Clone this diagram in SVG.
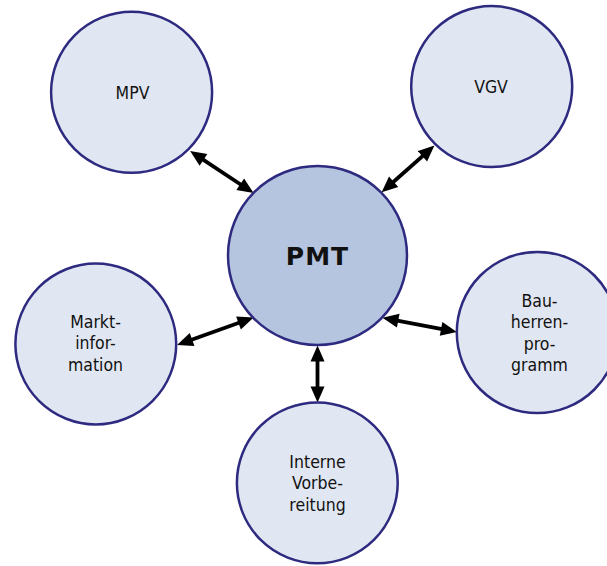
<svg xmlns="http://www.w3.org/2000/svg" width="607" height="566" viewBox="0 0 607 566">
<style>
.node{fill:#e1e7f2;stroke:#2d2a80;stroke-width:2.5}
.hub{fill:#b5c5df;stroke:#2d2a80;stroke-width:2.5}
.lbl{font-family:"DejaVu Sans Condensed","DejaVu Sans",sans-serif;font-stretch:condensed;font-size:17.5px;fill:#111;text-anchor:middle}
.hubl{font-family:"DejaVu Sans","Liberation Sans",sans-serif;font-weight:bold;font-size:25px;letter-spacing:1px;fill:#111;text-anchor:middle}
.conn{stroke:#000;stroke-width:3.8;fill:none;marker-start:url(#ah);marker-end:url(#ah)}
</style>
<defs>
<marker id="ah" markerUnits="userSpaceOnUse" markerWidth="17" markerHeight="15" viewBox="0 0 16 15" refX="5" refY="7.5" orient="auto-start-reverse">
<path d="M0,0.5 L16,7.5 L0,14.5 z" fill="#000"/>
</marker>
</defs>
<g id="connectors">
<line class="conn" x1="199.3" y1="157.1" x2="244.4" y2="187.0"/>
<line class="conn" x1="426.2" y1="152.9" x2="389.9" y2="185.0"/>
<line class="conn" x1="187.4" y1="341.2" x2="243.2" y2="321.3"/>
<line class="conn" x1="393.3" y1="319.8" x2="446.0" y2="329.9"/>
<line class="conn" x1="317.5" y1="356.5" x2="317.5" y2="391.5"/>
</g>
<g id="pmt">
<circle class="hub" cx="317.5" cy="255.5" r="89.5"/>
<text class="hubl" x="317.5" y="264.8">PMT</text>
</g>
<g id="mpv">
<circle class="node" cx="131.6" cy="92.2" r="80.5"/>
<text class="lbl" x="132.5" y="99">MPV</text>
</g>
<g id="vgv">
<circle class="node" cx="491.7" cy="86.6" r="80.5"/>
<text class="lbl" x="491" y="93.2">VGV</text>
</g>
<g id="marktinformation">
<circle class="node" cx="95.8" cy="344" r="80.4"/>
<text class="lbl" x="95.5" y="327.7">Markt-</text>
<text class="lbl" x="95.5" y="349.4">infor-</text>
<text class="lbl" x="95.5" y="371">mation</text>
</g>
<g id="bauherrenprogramm">
<circle class="node" cx="537.4" cy="332.5" r="80.6"/>
<text class="lbl" x="539.5" y="306.5">Bau-</text>
<text class="lbl" x="539.5" y="328">herren-</text>
<text class="lbl" x="539.5" y="349.5">pro-</text>
<text class="lbl" x="539.5" y="371">gramm</text>
</g>
<g id="internevorbereitung">
<circle class="node" cx="317.3" cy="482.8" r="80.4"/>
<text class="lbl" x="317.5" y="467.5">Interne</text>
<text class="lbl" x="317.5" y="489">Vorbe-</text>
<text class="lbl" x="317.5" y="510.5">reitung</text>
</g>
</svg>
